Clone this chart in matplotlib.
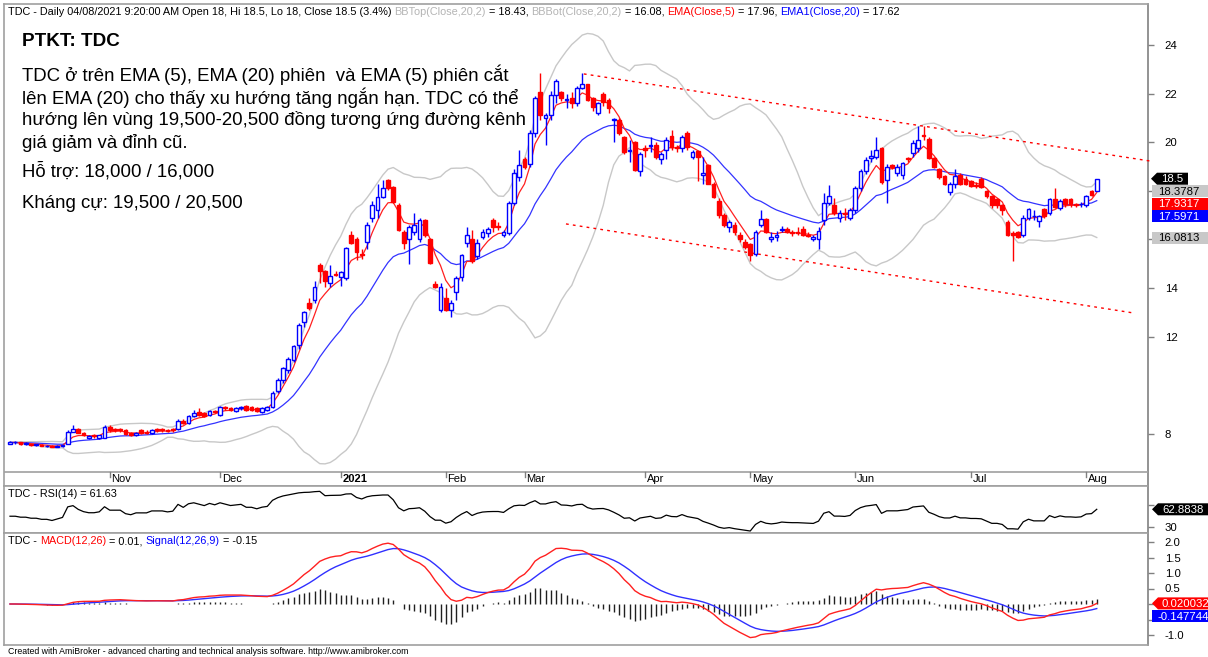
import numpy as np
import pandas as pd
import matplotlib
matplotlib.use("Agg")
import matplotlib.pyplot as plt
from matplotlib.patches import Rectangle, Polygon

W, H, DPI = 1208, 657, 100

# ---------------- data ----------------
opens = [
    # Oct
    7.60, 7.65, 7.65, 7.60, 7.60, 7.55, 7.55, 7.50, 7.50, 7.45, 7.50, 7.60, 8.10, 8.20, 8.05, 7.85, 7.95, 7.85, 7.85,
    # Nov
    8.30, 8.20, 8.20, 8.15, 8.05, 7.95, 8.15, 8.10, 8.05, 8.20, 8.20, 8.15, 8.20, 8.20, 8.55, 8.45, 8.75, 8.90, 8.85, 8.80, 8.95,
    # Dec
    8.80, 9.10, 9.05, 8.95, 9.05, 9.15, 9.10, 9.05, 8.90, 9.00, 9.10, 9.75, 10.20, 10.65, 11.05, 11.65, 12.60, 13.40, 13.50, 14.95, 14.70, 14.20, 14.60,
    # Jan
    14.45, 14.40, 16.20, 16.00, 15.40, 15.90, 16.90, 17.20, 17.75, 18.45, 18.15, 17.40, 16.30, 16.00, 16.30, 16.00, 16.80, 16.00, 14.15, 13.10,
    # Feb
    13.60, 13.10, 13.85, 14.45, 15.85, 16.00, 15.30, 16.10, 16.25, 16.80, 16.55, 16.20, 16.25, 17.50, 18.55,
    # Mar
    19.30, 19.10, 20.40, 22.05, 21.00, 21.10, 21.95, 22.05, 21.75, 21.80, 21.60, 22.25, 22.40, 21.80, 21.20, 22.00, 21.75, 20.90, 20.90, 20.20, 19.65, 20.00, 18.80,
    # Apr
    19.75, 19.85, 19.90, 19.30, 19.70, 20.25, 19.80, 19.75, 20.40, 19.40, 19.65, 18.65, 19.05, 18.30, 17.60, 17.00, 16.50, 16.60, 16.20, 15.90,
    # May
    15.80, 15.40, 16.60, 16.85, 16.00, 16.10, 16.40, 16.45, 16.30, 16.30, 16.45, 16.20, 16.00, 16.00, 16.80, 17.50, 17.40, 16.90, 17.10, 16.90,
    # Jun
    17.20, 18.10, 18.80, 19.35, 19.40, 19.75, 18.45, 19.05, 18.75, 18.65, 19.35, 19.55, 19.75, 20.30, 20.15, 19.35, 18.90, 18.60, 17.95, 18.30, 18.65, 18.50,
    # Jul
    18.40, 18.25, 18.50, 18.00, 17.80, 17.65, 17.40, 16.70, 16.25, 16.30, 16.20, 16.90, 16.95, 16.75, 17.25, 17.10, 17.65, 17.30, 17.65, 17.65, 17.45, 17.45,
    # Aug
    17.40, 18.00, 18.00,
]
highs = [
    7.70, 7.70, 7.65, 7.65, 7.60, 7.60, 7.60, 7.55, 7.55, 7.55, 7.55, 8.15, 8.35, 8.25, 8.10, 7.95, 8.00, 7.95, 8.35,
    8.35, 8.25, 8.25, 8.20, 8.10, 8.10, 8.20, 8.15, 8.20, 8.25, 8.25, 8.20, 8.25, 8.60, 8.60, 8.80, 9.00, 9.05, 8.90, 9.00, 9.00,
    9.15, 9.15, 9.10, 9.10, 9.15, 9.20, 9.15, 9.10, 9.10, 9.15, 9.75, 10.30, 10.75, 11.15, 11.65, 12.55, 13.05, 13.60, 14.30, 15.05, 14.75, 14.95, 14.70,
    14.70, 15.70, 16.35, 16.10, 15.60, 16.70, 17.60, 18.30, 18.45, 18.50, 18.20, 17.50, 16.40, 16.60, 17.10, 16.90, 16.85, 16.05, 14.30, 14.20,
    14.00, 13.50, 14.50, 15.40, 16.50, 16.40, 16.00, 16.45, 16.50, 16.90, 16.70, 16.40, 17.60, 18.90, 19.70,
    19.40, 20.50, 21.90, 22.85, 21.20, 22.10, 22.60, 22.10, 22.00, 22.05, 22.30, 22.85, 22.40, 21.85, 21.65, 22.05, 21.80, 21.00, 21.00, 20.25, 20.10, 20.05, 19.60,
    19.90, 20.20, 20.00, 19.60, 20.20, 20.50, 19.90, 20.30, 20.45, 19.70, 19.70, 19.40, 19.10, 18.35, 17.70, 17.10, 16.80, 16.70, 16.30, 16.00,
    15.85, 16.40, 17.20, 16.90, 16.30, 16.35, 16.55, 16.50, 16.40, 16.50, 16.55, 16.30, 16.20, 16.50, 17.90, 18.25, 17.70, 17.20, 17.30, 17.30,
    18.20, 18.90, 19.40, 19.70, 20.20, 19.80, 19.10, 19.10, 19.10, 19.20, 19.40, 20.10, 20.65, 20.65, 20.20, 19.40, 18.95, 18.65, 18.35, 18.90, 18.75, 18.60,
    18.45, 18.35, 18.55, 18.05, 17.85, 17.70, 17.45, 16.80, 16.35, 16.35, 17.00, 17.30, 17.20, 17.00, 17.30, 17.70, 18.10, 17.65, 17.70, 17.70, 17.50, 17.55,
    17.85, 18.05, 18.50,
]
lows = [
    7.60, 7.60, 7.55, 7.55, 7.50, 7.50, 7.50, 7.45, 7.45, 7.45, 7.45, 7.60, 8.10, 8.05, 7.90, 7.80, 7.85, 7.80, 7.85,
    8.10, 8.10, 8.10, 7.95, 7.90, 7.90, 8.00, 8.00, 8.00, 8.10, 8.10, 8.10, 8.10, 8.15, 8.40, 8.40, 8.70, 8.75, 8.70, 8.75, 8.85,
    8.75, 9.00, 8.95, 8.90, 9.00, 8.95, 8.95, 8.90, 8.85, 8.95, 9.05, 9.70, 10.10, 10.50, 10.95, 11.50, 12.40, 13.10, 13.40, 14.20, 14.05, 14.05, 14.50,
    14.10, 14.35, 15.80, 15.15, 15.20, 15.60, 16.70, 16.90, 17.70, 18.05, 17.50, 16.35, 15.60, 15.00, 16.20, 15.90, 16.10, 15.00, 14.00, 13.00,
    13.05, 12.80, 13.50, 14.30, 15.70, 15.05, 15.20, 16.00, 16.10, 16.30, 16.40, 16.10, 16.20, 17.40, 18.40,
    18.90, 19.00, 20.20, 20.90, 19.90, 20.90, 21.60, 21.70, 21.40, 21.40, 21.50, 22.20, 21.70, 21.30, 21.10, 21.50, 21.20, 20.00, 20.30, 19.50, 19.20, 18.80, 18.60,
    19.40, 19.60, 19.30, 19.10, 19.30, 19.70, 19.60, 19.60, 19.70, 19.30, 18.40, 18.30, 18.30, 17.70, 16.90, 16.50, 16.30, 16.20, 15.90, 15.60,
    15.10, 15.30, 16.50, 16.25, 15.90, 15.95, 16.30, 16.25, 16.15, 16.20, 16.15, 16.10, 15.95, 15.60, 16.60, 17.40, 17.00, 16.70, 16.80, 16.80,
    17.10, 18.00, 18.70, 19.20, 19.30, 18.30, 17.50, 18.90, 18.60, 18.50, 19.20, 19.40, 19.60, 20.10, 19.30, 18.95, 18.50, 18.25, 17.85, 18.10, 18.25, 18.25,
    18.15, 18.10, 18.10, 17.70, 17.30, 17.30, 17.00, 16.15, 15.10, 16.05, 16.10, 16.80, 16.80, 16.50, 16.90, 17.00, 17.30, 17.20, 17.35, 17.35, 17.35, 17.35,
    17.35, 17.80, 18.00,
]
closes = [
    7.65, 7.65, 7.60, 7.60, 7.55, 7.55, 7.50, 7.50, 7.45, 7.50, 7.55, 8.10, 8.20, 8.05, 7.95, 7.90, 7.90, 7.95, 8.30,
    8.15, 8.15, 8.15, 8.00, 7.95, 8.05, 8.05, 8.05, 8.15, 8.15, 8.15, 8.12, 8.15, 8.55, 8.45, 8.75, 8.85, 8.80, 8.75, 8.95, 8.90,
    9.10, 9.05, 9.00, 9.05, 9.10, 9.00, 9.00, 8.95, 9.05, 9.10, 9.70, 10.20, 10.70, 11.10, 11.60, 12.50, 13.00, 13.20, 14.05, 14.70, 14.30, 14.50, 14.55,
    14.65, 15.65, 15.85, 15.50, 15.35, 16.60, 17.40, 17.75, 18.10, 18.10, 17.55, 16.40, 15.85, 16.50, 16.60, 16.80, 16.20, 15.05, 14.05, 14.05,
    13.10, 13.40, 14.40, 15.35, 16.20, 15.10, 15.85, 16.30, 16.45, 16.50, 16.50, 16.30, 17.50, 18.75, 19.05,
    19.00, 20.40, 21.80, 21.10, 21.10, 21.95, 22.50, 21.80, 21.75, 21.60, 22.25, 22.40, 21.75, 21.45, 21.60, 21.65, 21.40, 20.95, 20.40, 19.60, 19.70, 18.85, 19.50,
    19.70, 19.90, 19.40, 19.50, 20.10, 19.80, 19.75, 20.20, 19.80, 19.60, 19.40, 18.75, 18.30, 17.75, 17.00, 16.60, 16.70, 16.30, 16.00, 15.70,
    15.35, 16.30, 16.85, 16.30, 16.10, 16.20, 16.40, 16.30, 16.25, 16.25, 16.20, 16.15, 16.10, 16.35, 17.50, 17.80, 17.10, 17.10, 17.05, 17.20,
    18.10, 18.80, 19.25, 19.45, 19.70, 18.35, 19.00, 19.00, 19.00, 19.15, 19.30, 19.95, 20.10, 20.25, 19.35, 19.00, 18.55, 18.30, 18.30, 18.60, 18.30, 18.30,
    18.20, 18.20, 18.15, 17.80, 17.40, 17.40, 17.20, 16.20, 16.20, 16.10, 16.90, 17.25, 16.95, 16.95, 16.95, 17.65, 17.35, 17.60, 17.45, 17.45, 17.40, 17.45,
    17.80, 17.85, 18.50,
]
assert len(opens) == len(highs) == len(lows) == len(closes) == 208

month_labels = ["Nov", "Dec", "2021", "Feb", "Mar", "Apr", "May", "Jun", "Jul", "Aug"]
month_start_bar = [19, 40, 63, 83, 98, 121, 141, 161, 183, 205]

# hand-drawn channel trend lines (bar index, price)
channel_upper_x = [109.3, 217.1]
channel_upper_y = [22.81, 19.23]
channel_lower_x = [105.9, 213.9]
channel_lower_y = [16.64, 12.98]

# axis labels; the ones hidden under value tags in the reference are blank
price_ticks = [8, 12, 14, 16, 18, 20, 22, 24]
price_tick_labels = ["8", "12", "14", "", "", "20", "22", "24"]
rsi_ticks = [30, 70]
rsi_tick_labels = ["30", ""]
macd_ticks = [-1.0, -0.5, 0.0, 0.5, 1.0, 1.5, 2.0]
macd_tick_labels = ["-1.0", "", "", "0.5", "1.0", "1.5", "2.0"]

title_lines = [
    "TDC ở trên EMA (5), EMA (20) phiên  và EMA (5) phiên cắt",
    "lên EMA (20) cho thấy xu hướng tăng ngắn hạn. TDC có thể",
    "hướng lên vùng 19,500-20,500 đồng tương ứng đường kênh",
    "giá giảm và đỉnh cũ.",
]
support_text = "Hỗ trợ: 18,000 / 16,000"
resist_text = "Kháng cự: 19,500 / 20,500"

# ---------------- indicators ----------------
o = np.array(opens); h = np.array(highs); l = np.array(lows); c = np.array(closes)
cs = pd.Series(c)
ema5 = cs.ewm(span=5, adjust=False).mean().values
ema20 = cs.ewm(span=20, adjust=False).mean().values
ma20 = cs.rolling(20, min_periods=1).mean()
sd20 = cs.rolling(20, min_periods=1).std(ddof=0).fillna(0)
bbtop = (ma20 + 2 * sd20).values
bbbot = (ma20 - 2 * sd20).values
macd = (cs.ewm(span=12, adjust=False).mean() - cs.ewm(span=26, adjust=False).mean())
signal = macd.ewm(span=9, adjust=False).mean()
hist = (macd - signal).values
macd = macd.values; signal = signal.values

# Wilder RSI, seeded with a neutral state
d = np.diff(c, prepend=c[0])
au = ad = 0.06
rsi = []
for v in d:
    au = (au * 13 + max(v, 0)) / 14
    ad = (ad * 13 + max(-v, 0)) / 14
    rsi.append(100 - 100 / (1 + au / ad) if ad > 0 else 100)
rsi = np.array(rsi)

n = len(c)
x = np.arange(n)

# ---------------- layout ----------------
plt.rcParams['font.family'] = ['Liberation Sans', 'DejaVu Sans']
fig = plt.figure(figsize=(W / DPI, H / DPI), dpi=DPI)
fig.patch.set_facecolor('white')

LEFT, RIGHT = 4, 1148
def add_ax(top, bottom):
    return fig.add_axes([LEFT / W, 1 - bottom / H, (RIGHT - LEFT) / W, (bottom - top) / H])

ax = add_ax(4, 486)
axr = add_ax(486, 533)
axm = add_ax(533, 645)

px_per_bar = 5.25
x0px = 10
xlim = ((LEFT - x0px) / px_per_bar, (RIGHT - x0px) / px_per_bar)

GRAY = '#a0a0a0'
for a in (ax, axr, axm):
    a.set_xlim(*xlim)
    a.set_facecolor('white')
    a.set_xticks([])
    for s in ('left', 'top', 'bottom'):
        a.spines[s].set_color(GRAY)
        a.spines[s].set_linewidth(1.2)
    a.spines['right'].set_color('#808080')
    a.spines['right'].set_linewidth(1.2)
    a.yaxis.tick_right()
    a.tick_params(axis='y', direction='out', length=4, width=1, color='#808080',
                  labelsize=8.2, pad=8, labelcolor='black')

# price axis scaling: 24 at y=45px, 24.31 px per unit
ax.set_ylim(24 - (486 - 45) / 24.31, 24 + (45 - 4) / 24.31)
ax.set_yticks(price_ticks)
ax.set_yticklabels(price_tick_labels)

BLUE = '#0000ff'
RED = '#ff0000'
# Bollinger bands
ax.plot(x, bbtop, color='#c8c8c8', lw=1.0, zorder=2)
ax.plot(x, bbbot, color='#c8c8c8', lw=1.0, zorder=2)
# EMAs
ax.plot(x, ema20, color='#3333ff', lw=0.9, zorder=3)
ax.plot(x, ema5, color='#ff2020', lw=0.9, zorder=3)

# candles
bw = 0.72
for i in range(n):
    up = c[i] >= o[i]
    col = BLUE if up else RED
    ax.vlines(i, l[i], h[i], color=col, lw=1.0, zorder=4)
    lo_b, hi_b = min(o[i], c[i]), max(o[i], c[i])
    hb = max(hi_b - lo_b, 0.02)
    ax.add_patch(Rectangle((i - bw / 2, lo_b), bw, hb,
                           facecolor='white' if up else RED, edgecolor=col, lw=1.0, zorder=5))

# channel lines
ax.plot(channel_upper_x, channel_upper_y, color=RED, lw=1.0, ls=(0, (2, 3)), zorder=6, clip_on=False)
ax.plot(channel_lower_x, channel_lower_y, color=RED, lw=1.0, ls=(0, (2, 3)), zorder=6)

# date strip inside the price axes (y 472..486 px)
y_sep = ax.get_ylim()[0] + (486 - 472) / 24.31
ax.axhline(y_sep, color=GRAY, lw=1.2, zorder=7)
for lab, b in zip(month_labels, month_start_bar):
    ax.plot([b, b], [y_sep, y_sep - 5 / 24.31], color='#808080', lw=1, zorder=7)
    ax.text(b + 0.35, y_sep - 7 / 24.31, lab, fontsize=8, va='center', ha='left',
            fontweight='bold' if lab == '2021' else 'normal', zorder=7)

# RSI panel: 30 at y=527 px, 0.5375 px per RSI point
axr.set_ylim((543.1 - 533) / 0.5375, (543.1 - 486) / 0.5375)
axr.plot(x, rsi, color='black', lw=0.9)
axr.set_yticks(rsi_ticks)
axr.set_yticklabels(rsi_tick_labels)

# MACD panel: 0 at y=604, 31 px per unit
axm.set_ylim(-(645 - 604) / 31, (604 - 533) / 31)
axm.vlines(x, 0, hist, color='#202020', lw=1.0)
axm.plot(x, signal, color='#3030ff', lw=1.0)
axm.plot(x, macd, color='#ff2020', lw=1.0)
axm.set_yticks(macd_ticks)
axm.set_yticklabels(macd_tick_labels)

# ---------------- texts ----------------
def fxy(xp, yp):
    return xp / W, 1 - yp / H

renderer = fig.canvas.get_renderer()
def rich(xp, yp, parts, size=7.8):
    cur = xp
    for s, col in parts:
        t = fig.text(*fxy(cur, yp), s, color=col, fontsize=size, va='center', ha='left', zorder=20)
        cur += t.get_window_extent(renderer=renderer).width

BB_GRAY = '#b4b4b4'
rich(8, 12, [
    ("TDC - Daily 04/08/2021 9:20:00 AM Open 18, Hi 18.5, Lo 18, Close 18.5 (3.4%) ", 'black'),
    ("BBTop(Close,20,2)", BB_GRAY), (" = 18.43, ", 'black'),
    ("BBBot(Close,20,2)", BB_GRAY), (" = 16.08, ", 'black'),
    ("EMA(Close,5)", RED), (" = 17.96, ", 'black'),
    ("EMA1(Close,20)", BLUE), (" = 17.62", 'black'),
])
rich(8, 494, [("TDC - RSI(14) = 61.63", 'black')])
rich(8, 541, [("TDC - ", 'black'), ("MACD(12,26)", RED), (" = 0.01, ", 'black'),
              ("Signal(12,26,9)", BLUE), (" = -0.15", 'black')])
fig.text(*fxy(8, 651), "Created with AmiBroker - advanced charting and technical analysis software. http://www.amibroker.com",
         fontsize=6.3, va='center', ha='left')

fig.text(*fxy(22, 42), "PTKT: TDC", fontsize=13.6, fontweight='bold', va='center', ha='left', zorder=20)
for k, line in enumerate(title_lines):
    fig.text(*fxy(22, 75 + k * 22.5), line, fontsize=13.4, va='center', ha='left', zorder=20)
fig.text(*fxy(22, 171), support_text, fontsize=13.4, va='center', ha='left', zorder=20)
fig.text(*fxy(22, 204), resist_text, fontsize=13.4, va='center', ha='left', zorder=20)

# ---------------- value tags on the right axis ----------------
def data_to_py(a, v):
    return H - a.transData.transform((0, v))[1]

def tag(yp, text, bg, fg, arrow=False, x_start=1152, x_end=1210, hh=12):
    if arrow:
        verts = [(x_start, yp), (x_start + 6, yp - hh / 2), (x_end, yp - hh / 2), (x_end, yp + hh / 2), (x_start + 6, yp + hh / 2)]
    else:
        verts = [(x_start, yp - hh / 2), (x_end, yp - hh / 2), (x_end, yp + hh / 2), (x_start, yp + hh / 2)]
    fig.patches.append(Polygon([fxy(*v) for v in verts], closed=True, transform=fig.transFigure,
                               facecolor=bg, edgecolor='none', zorder=30))
    fig.text(*fxy(x_start + (10 if arrow else 6), yp + 0.5), text, color=fg, fontsize=8.2,
             va='center', ha='left', zorder=31)

price_tags = [
    (c[-1], f"{c[-1]:g}", 'black', 'white', True),
    (bbtop[-1], f"{bbtop[-1]:.4f}", '#c8c8c8', 'black', False),
    (ema5[-1], f"{ema5[-1]:.4f}", RED, 'white', False),
    (ema20[-1], f"{ema20[-1]:.4f}", BLUE, 'white', False),
    (bbbot[-1], f"{bbbot[-1]:.4f}", '#c8c8c8', 'black', False),
]
last = -1e9
for v, s, bg, fg, arr in sorted(price_tags, key=lambda t: -t[0]):
    yp = max(data_to_py(ax, v), last + 12.5)
    last = yp
    if arr:
        tag(yp, s, bg, fg, arrow=True, x_start=1151, x_end=1188)
    else:
        tag(yp, s, bg, fg)

tag(data_to_py(axr, rsi[-1]), f"{rsi[-1]:.4f}", 'black', 'white', arrow=True)
ym = data_to_py(axm, macd[-1])
ys = max(data_to_py(axm, signal[-1]), ym + 13)
tag(ym, f"{macd[-1]:.6f}", RED, 'white', arrow=True)
tag(ys, f"{signal[-1]:.6f}", BLUE, 'white', arrow=False)

fig.savefig("out.png", dpi=DPI, facecolor='white')
